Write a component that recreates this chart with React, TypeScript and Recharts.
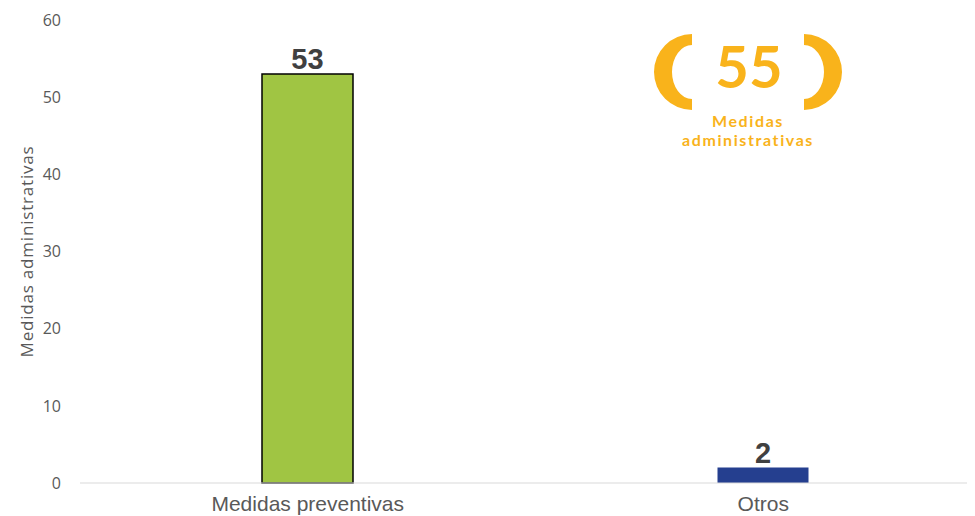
import React from "react";
import { BarChart, Bar, XAxis, YAxis, Cell, LabelList } from "recharts";

const categories = ["Medidas preventivas", "Otros"];
const values = [53, 2];
const barColors = ["#A0C543", "#253F8F"];
const barStrokes = ["#000000", "none"];
const yTicks = [0, 10, 20, 30, 40, 50, 60];
const yTitle = "Medidas administrativas";
const badgeNumber = "55";
const badgeLines = ["Medidas", "administrativas"];

const data = categories.map((c, i) => ({ name: c, value: values[i] }));

const ORANGE = "#F9B31B";

export default function App() {
  return (
    <div style={{ position: "relative", width: 967, height: 508, overflow: "hidden" }}>
      <BarChart
        width={1000}
        height={508}
        data={data}
        margin={{ top: 12, right: 17, bottom: 3, left: 0 }}
      >
        <XAxis
          dataKey="name"
          height={30}
          tickLine={false}
          axisLine={{ stroke: "#D9D9D9", strokeWidth: 1 }}
          tickMargin={7}
          tick={{ fill: "#595959", fontSize: 21, fontFamily: "Liberation Sans, Arial, sans-serif" }}
        />
        <YAxis
          width={72}
          domain={[0, 60]}
          ticks={yTicks}
          axisLine={false}
          tickLine={false}
          tickMargin={13}
          tick={{ fill: "#595959", fontSize: 16, fontFamily: "Open Sans, sans-serif" }}
          label={{
            value: yTitle,
            angle: -90,
            position: "insideLeft",
            offset: 19,
            textAnchor: "middle",
            fill: "#595959",
            fontSize: 17,
            letterSpacing: 0.8,
            fontFamily: "Open Sans, sans-serif",
          }}
        />
        <Bar dataKey="value" barSize={91} isAnimationActive={false}>
          {data.map((d, i) => (
            <Cell key={d.name} fill={barColors[i]} stroke={barStrokes[i]} strokeWidth={1.5} />
          ))}
          <LabelList
            dataKey="value"
            position="top"
            offset={5}
            fill="#404040"
            fontSize={29}
            fontWeight="bold"
            fontFamily="Liberation Sans, Arial, sans-serif"
          />
        </Bar>
      </BarChart>
      <svg
        width={967}
        height={508}
        style={{ position: "absolute", left: 0, top: 0, pointerEvents: "none" }}
      >
        <g transform="translate(-8,-8)">
          <path d="M692,34 A38,38 0 0 0 692,110 L692,99 A20,27 0 0 1 692,45 Z" fill={ORANGE} />
          <path d="M804,34 A38,38 0 0 1 804,110 L804,99 A20,27 0 0 0 804,45 Z" fill={ORANGE} />
          <text
            x={749}
            y={88}
            textAnchor="middle"
            fill={ORANGE}
            fontSize={58}
            fontWeight="bold"
            fontFamily="Lato, sans-serif"
          >
            {badgeNumber}
          </text>
          <text x={748} y={127} textAnchor="middle" fill={ORANGE} fontSize={16} letterSpacing={1.6} fontWeight="bold" fontFamily="Lato, sans-serif">
            {badgeLines[0]}
          </text>
          <text x={748} y={146} textAnchor="middle" fill={ORANGE} fontSize={16} letterSpacing={1.6} fontWeight="bold" fontFamily="Lato, sans-serif">
            {badgeLines[1]}
          </text>
        </g>
      </svg>
    </div>
  );
}
